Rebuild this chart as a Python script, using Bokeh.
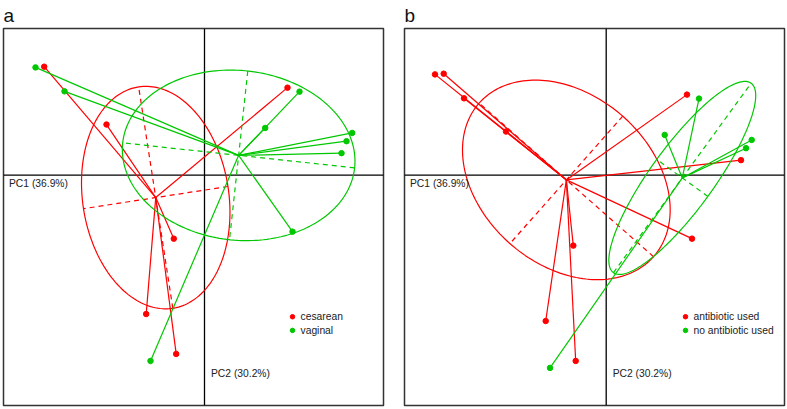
import numpy as np
from bokeh.plotting import figure
from bokeh.models import Span, Range1d
from bokeh.layouts import row
from bokeh.embed import file_html
from bokeh.resources import INLINE
from bokeh.core.properties import value

# PCA scores of the 15 samples
pc1 = [-1.69, -1.603, -1.40, -0.98, 0.83, 0.95, 0.607, 1.477, 1.42, 1.37,
       -0.307, 0.88, -0.583, -0.283, -0.54]
pc2 = [1.08, 1.087, 0.84, 0.507, 0.877, 0.837, 0.473, 0.423, 0.34, 0.22,
       -0.637, -0.567, -1.393, -1.793, -1.863]
delivery = ["vaginal", "cesarean", "vaginal", "cesarean", "cesarean", "vaginal",
            "vaginal", "vaginal", "vaginal", "vaginal", "cesarean", "vaginal",
            "cesarean", "cesarean", "vaginal"]
antibiotic = ["antibiotic used"] * 5 + ["no antibiotic used"] * 4 + \
             ["antibiotic used"] * 5 + ["no antibiotic used"]
delivery_levels = ["cesarean", "vaginal"]
antibiotic_levels = ["antibiotic used", "no antibiotic used"]
pc1_label = "PC1 (36.9%)"
pc2_label = "PC2 (30.2%)"

RED = "#FF0000"
GREEN = "#00C800"
FONT = value("Liberation Sans")
colors = [RED, GREEN]


def panel(letter, groups, levels, xr, yr, origin, leg_xy, left, right, width):
    p = figure(width=width, height=409, x_range=Range1d(*xr), y_range=Range1d(*yr),
               output_backend="svg", toolbar_location=None,
               min_border_left=left, min_border_right=right,
               min_border_bottom=4, min_border_top=27, title=letter)
    p.title.text_font = "Liberation Sans"
    p.title.text_font_size = "19px"
    p.title.text_font_style = "normal"
    p.title.text_color = "#111111"
    p.title.align = "left"
    p.title.standoff = 5
    p.title.offset = 0
    p.axis.visible = False
    p.grid.visible = False
    p.outline_line_color = "#333333"
    p.outline_line_width = 1.5
    p.background_fill_color = "white"
    p.add_layout(Span(location=origin[0], dimension="height", line_color="black",
                      line_width=1.3, level="underlay"))
    p.add_layout(Span(location=origin[1], dimension="width", line_color="black",
                      line_width=1.3, level="underlay"))

    x = np.array(pc1)
    y = np.array(pc2)
    g = np.array(groups)
    t = np.linspace(0, 2 * np.pi, 200)
    for lev, col in zip(levels, colors):
        m = g == lev
        X = np.column_stack([x[m], y[m]])
        c = X.mean(axis=0)
        D = X - c
        cov = D.T @ D / len(X)
        lam, V = np.linalg.eigh(cov)
        a1 = np.sqrt(lam[1]) * V[:, 1]
        a2 = np.sqrt(lam[0]) * V[:, 0]
        ex = c[0] + a1[0] * np.cos(t) + a2[0] * np.sin(t)
        ey = c[1] + a1[1] * np.cos(t) + a2[1] * np.sin(t)
        p.line(ex, ey, line_color=col, line_width=1.2)
        p.segment(x0=[c[0] - a1[0], c[0] - a2[0]], y0=[c[1] - a1[1], c[1] - a2[1]],
                  x1=[c[0] + a1[0], c[0] + a2[0]], y1=[c[1] + a1[1], c[1] + a2[1]],
                  line_color=col, line_width=1.2, line_dash="5 4")
        p.segment(x0=[c[0]] * len(X), y0=[c[1]] * len(X), x1=X[:, 0], y1=X[:, 1],
                  line_color=col, line_width=1.2)
        p.scatter(X[:, 0], X[:, 1], size=5.5, color=col)

    # axis labels
    p.text(x=[xr[0] + 0.055], y=[origin[1] - 0.085], text=[pc1_label],
           text_font=FONT, text_font_size="10.3px", text_color="#222222",
           text_baseline="middle", text_align="left")
    p.text(x=[origin[0] + 0.065], y=[origin[1] - 1.99], text=[pc2_label],
           text_font=FONT, text_font_size="10.3px", text_color="#222222",
           text_baseline="middle", text_align="left")
    # legend
    lx, ly = leg_xy
    p.scatter([lx, lx], [ly, ly - 0.137], size=4.5, color=colors)
    p.text(x=[lx + 0.08, lx + 0.08], y=[ly, ly - 0.137], text=levels,
           text_font=FONT, text_font_size="10.3px", text_color="#222222",
           text_baseline="middle", text_align="left")
    return p


pa = panel("a", delivery, delivery_levels, (-2.01, 1.79), (-2.31, 1.47),
           (0.0, 0.0), (0.88, -1.42), 3, 10, 393)
pb = panel("b", antibiotic, antibiotic_levels, (-1.995, 1.805), (-2.24, 1.54),
           (0.022, 0.07), (0.815, -1.35), 11, 3, 394)

layout = row(pa, pb)
open("out.html", "w").write(file_html(layout, INLINE))
